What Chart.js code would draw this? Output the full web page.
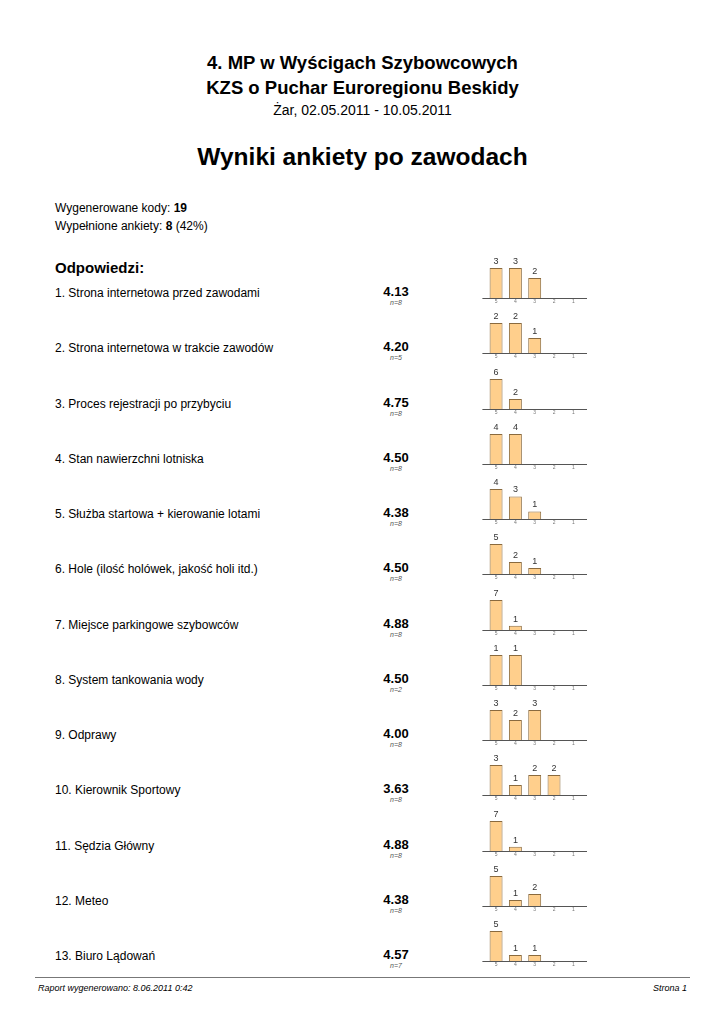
<!DOCTYPE html>
<html>
<head>
<meta charset="utf-8">
<script src="https://cdn.jsdelivr.net/npm/chart.js@4.4.0/dist/chart.umd.min.js"></script>
<style>
  body { margin: 0; background: #fff; font-family: "Liberation Sans", Arial, sans-serif; color: #000; }
  #page { position: relative; width: 725px; height: 1024px; overflow: hidden; }
  .t { position: absolute; white-space: nowrap; }
  .c { left: 0; width: 725px; text-align: center; }
  .q { left: 55px; font-size: 12px; line-height: 14px; }
  .score { left: 356px; width: 80px; text-align: center; font-size: 13px; font-weight: bold; line-height: 14px; }
  .n { left: 356px; width: 80px; text-align: center; font-size: 7px; font-style: italic; color: #555; line-height: 8px; }
  canvas.mini { position: absolute; left: 478px; }
</style>
</head>
<body>
<div id="page">
  <div class="t c" style="top:52px;font-size:18.5px;font-weight:bold;line-height:22px">4. MP w Wyścigach Szybowcowych</div>
  <div class="t c" style="top:77px;font-size:18.5px;font-weight:bold;line-height:22px">KZS o Puchar Euroregionu Beskidy</div>
  <div class="t c" style="top:102px;font-size:14px;line-height:16px">Żar, 02.05.2011 - 10.05.2011</div>
  <div class="t c" style="top:142px;font-size:24.5px;font-weight:bold;line-height:30px">Wyniki ankiety po zawodach</div>
  <div class="t" style="left:55px;top:201px;font-size:12px;line-height:14px">Wygenerowane kody: <b>19</b></div>
  <div class="t" style="left:55px;top:219px;font-size:12px;line-height:14px">Wypełnione ankiety: <b>8</b> (42%)</div>
  <div class="t" style="left:55px;top:259px;font-size:15px;font-weight:bold;line-height:18px">Odpowiedzi:</div>
  <div id="rows"></div>
  <div style="position:absolute;left:35px;top:977px;width:655px;height:1px;background:#777"></div>
  <div class="t" style="left:38px;top:983px;font-size:9px;font-style:italic;line-height:11px">Raport wygenerowano: 8.06.2011 0:42</div>
  <div class="t" style="right:38px;top:983px;font-size:9px;font-style:italic;line-height:11px">Strona 1</div>
</div>
<script>
const grades = ['5', '4', '3', '2', '1'];

const questions = [
  '1. Strona internetowa przed zawodami',
  '2. Strona internetowa w trakcie zawodów',
  '3. Proces rejestracji po przybyciu',
  '4. Stan nawierzchni lotniska',
  '5. Służba startowa + kierowanie lotami',
  '6. Hole (ilość holówek, jakość holi itd.)',
  '7. Miejsce parkingowe szybowców',
  '8. System tankowania wody',
  '9. Odprawy',
  '10. Kierownik Sportowy',
  '11. Sędzia Główny',
  '12. Meteo',
  '13. Biuro Lądowań'
];

const scores = ['4.13', '4.20', '4.75', '4.50', '4.38', '4.50', '4.88', '4.50', '4.00', '3.63', '4.88', '4.38', '4.57'];
const counts = [8, 5, 8, 8, 8, 8, 8, 2, 8, 8, 8, 8, 7];

// answers per grade 5..1
const answers = [
  [3, 3, 2, 0, 0],
  [2, 2, 1, 0, 0],
  [6, 2, 0, 0, 0],
  [4, 4, 0, 0, 0],
  [4, 3, 1, 0, 0],
  [5, 2, 1, 0, 0],
  [7, 1, 0, 0, 0],
  [1, 1, 0, 0, 0],
  [3, 2, 3, 0, 0],
  [3, 1, 2, 2, 0],
  [7, 1, 0, 0, 0],
  [5, 1, 2, 0, 0],
  [5, 1, 1, 0, 0]
];

// numbers over bars, grade labels under them, axis line a bit longer than the plot area
const miniPlugin = {
  id: 'mini',
  afterDatasetsDraw(chart) {
    const ctx = chart.ctx;
    const meta = chart.getDatasetMeta(0);
    const a = chart.chartArea;
    const y0 = Math.round(a.bottom) + 0.5;
    ctx.save();
    ctx.strokeStyle = '#555';
    ctx.lineWidth = 1;
    ctx.beginPath();
    ctx.moveTo(a.left - 4, y0);
    ctx.lineTo(a.right + 4, y0);
    ctx.stroke();

    ctx.textAlign = 'center';
    meta.data.forEach(function (bar, i) {
      const v = chart.data.datasets[0].data[i];
      ctx.font = '9px "Liberation Sans", Arial, sans-serif';
      ctx.fillStyle = '#333';
      ctx.textBaseline = 'bottom';
      if (v > 0) ctx.fillText(String(v), bar.x, bar.y - 2);
      ctx.font = '5px "Liberation Sans", Arial, sans-serif';
      ctx.fillStyle = '#777';
      ctx.textBaseline = 'middle';
      ctx.fillText(chart.data.labels[i], bar.x, y0 + 3.5);
    });
    ctx.restore();
  }
};

const rows = document.getElementById('rows');
const step = 55.25;

questions.forEach(function (q, i) {
  const axisY = 298 + step * i;

  const qd = document.createElement('div');
  qd.className = 't q';
  qd.style.top = (axisY - 12) + 'px';
  qd.textContent = q;
  rows.appendChild(qd);

  const sd = document.createElement('div');
  sd.className = 't score';
  sd.style.top = (axisY - 13) + 'px';
  sd.textContent = scores[i];
  rows.appendChild(sd);

  const nd = document.createElement('div');
  nd.className = 't n';
  nd.style.top = (axisY + 1) + 'px';
  nd.textContent = 'n=' + counts[i];
  rows.appendChild(nd);

  const cv = document.createElement('canvas');
  cv.className = 'mini';
  cv.width = 114;
  cv.height = 52;
  cv.style.top = (axisY - 44) + 'px';
  rows.appendChild(cv);

  const data = answers[i];
  new Chart(cv.getContext('2d'), {
    type: 'bar',
    data: {
      labels: grades,
      datasets: [{
        data: data,
        backgroundColor: '#FFCF8C',
        borderColor: '#8A6A3E',
        borderWidth: 1,
        barPercentage: 0.67,
        categoryPercentage: 1
      }]
    },
    options: {
      responsive: false,
      animation: false,
      events: [],
      layout: { padding: { left: 8.4, right: 9, top: 14, bottom: 8 } },
      plugins: { legend: { display: false }, tooltip: { enabled: false } },
      scales: {
        x: { display: false },
        y: {
          display: false,
          min: 0,
          max: Math.max.apply(null, data)
        }
      }
    },
    plugins: [miniPlugin]
  });
});
</script>
</body>
</html>
